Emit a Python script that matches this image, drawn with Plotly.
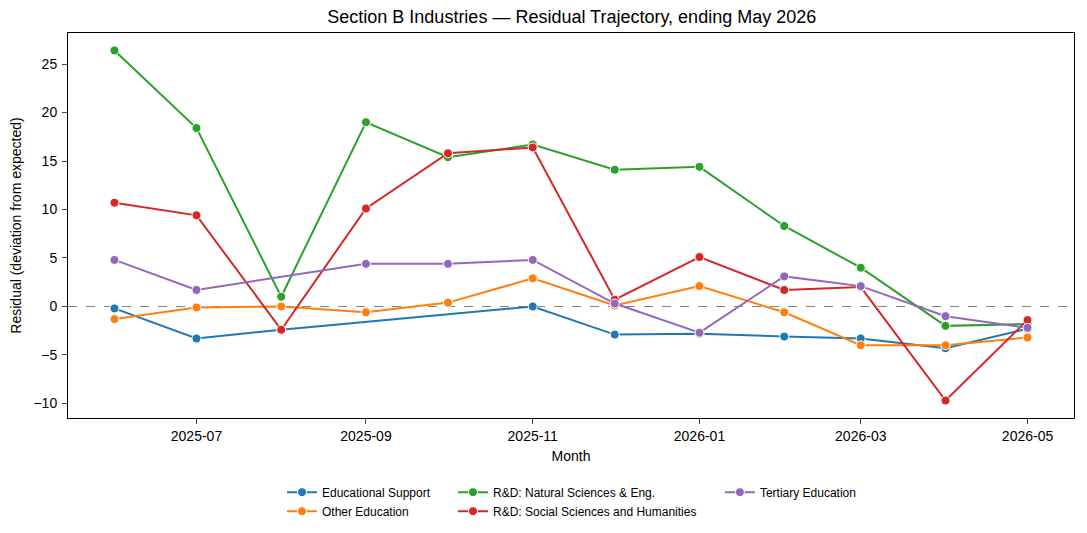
import plotly.graph_objects as go

months = ["2025-06-01", "2025-07-01", "2025-08-01", "2025-09-01", "2025-10-01", "2025-11-01",
          "2025-12-01", "2026-01-01", "2026-02-01", "2026-03-01", "2026-04-01", "2026-05-01"]

edu_support_x = ["2025-06-01", "2025-07-01", "2025-08-01", "2025-11-01", "2025-12-01",
                 "2026-01-01", "2026-02-01", "2026-03-01", "2026-04-01", "2026-05-01"]
edu_support_y = [-0.2, -3.3, -2.4, 0.0, -2.9, -2.8, -3.1, -3.3, -4.3, -2.3]

other_edu_y = [-1.3, -0.1, 0.0, -0.6, 0.4, 2.9, 0.1, 2.1, -0.6, -4.0, -4.0, -3.2]

rd_nat_y = [26.4, 18.4, 1.0, 19.0, 15.4, 16.7, 14.1, 14.4, 8.3, 4.0, -2.0, -1.8]

rd_soc_y = [10.7, 9.4, -2.4, 10.1, 15.8, 16.4, 0.7, 5.1, 1.7, 2.0, -9.7, -1.4]

tertiary_x = ["2025-06-01", "2025-07-01", "2025-09-01", "2025-10-01", "2025-11-01", "2025-12-01",
              "2026-01-01", "2026-02-01", "2026-03-01", "2026-04-01", "2026-05-01"]
tertiary_y = [4.8, 1.7, 4.4, 4.4, 4.8, 0.3, -2.7, 3.1, 2.1, -1.0, -2.2]

x_ticks = ["2025-07-01", "2025-09-01", "2025-11-01", "2026-01-01", "2026-03-01", "2026-05-01"]
x_tick_labels = ["2025-07", "2025-09", "2025-11", "2026-01", "2026-03", "2026-05"]
y_ticks = [-10, -5, 0, 5, 10, 15, 20, 25]

series = [
    ("Educational Support", edu_support_x, edu_support_y, "#1f77b4", "legend"),
    ("Other Education", months, other_edu_y, "#ff7f0e", "legend"),
    ("R&D: Natural Sciences & Eng.", months, rd_nat_y, "#2ca02c", "legend2"),
    ("R&D: Social Sciences and Humanities", months, rd_soc_y, "#d62728", "legend2"),
    ("Tertiary Education", tertiary_x, tertiary_y, "#9467bd", "legend3"),
]

fig = go.Figure()
for name, xs, ys, col, leg in series:
    fig.add_trace(go.Scatter(
        x=xs, y=ys, name=name, mode="lines+markers",
        line=dict(color=col, width=2),
        marker=dict(color=col, size=9, line=dict(color="white", width=1)),
        legend=leg,
    ))

fig.add_shape(type="line", xref="paper", x0=0, x1=1, yref="y", y0=0, y1=0,
              line=dict(color="gray", width=1, dash="dash"), layer="below")

leg_common = dict(orientation="v", yanchor="top", y=-0.155, xanchor="left",
                  font=dict(size=12), tracegroupgap=0, bgcolor="rgba(0,0,0,0)",
                  itemwidth=30)

fig.update_layout(
    width=1087, height=533,
    margin=dict(l=68, r=13, t=33, b=115, autoexpand=False),
    paper_bgcolor="white", plot_bgcolor="white",
    font=dict(family="Liberation Sans, Arial, sans-serif", size=14, color="black"),
    title=dict(text="Section B Industries — Residual Trajectory, ending May 2026",
               x=0.526, xanchor="center", y=0.968, yanchor="middle",
               font=dict(size=18)),
    showlegend=True,
    legend=dict(x=0.2127, **leg_common),
    legend2=dict(x=0.3827, **leg_common),
    legend3=dict(x=0.648, **leg_common),
)
fig.update_xaxes(
    range=["2025-05-15", "2026-05-18"], tickvals=x_ticks, ticktext=x_tick_labels,
    showline=True, linecolor="black", linewidth=1, mirror=True,
    ticks="outside", ticklen=5, showgrid=False, zeroline=False,
    tickfont=dict(size=14),
    title=dict(text="Month", font=dict(size=14), standoff=8),
)
fig.update_yaxes(
    range=[-11.5, 28.2], tickvals=y_ticks,
    showline=True, linecolor="black", linewidth=1, mirror=True,
    ticks="outside", ticklen=5, showgrid=False, zeroline=False,
    tickfont=dict(size=14), ticklabelstandoff=2,
    title=dict(text="Residual (deviation from expected)", font=dict(size=14), standoff=8),
)

fig.write_html("out.html")
